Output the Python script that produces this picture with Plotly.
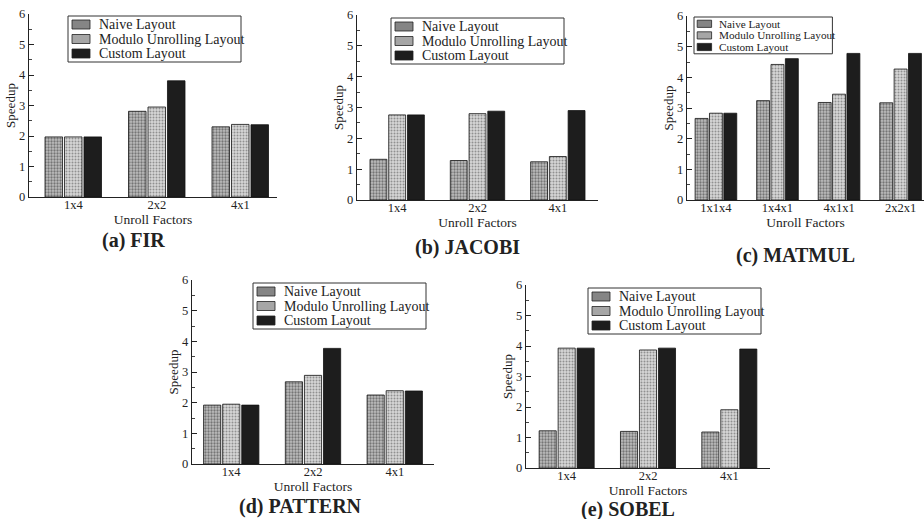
import plotly.graph_objects as go

# ---------------- data ----------------
series_names = ["Naive Layout", "Modulo Unrolling Layout", "Custom Layout"]

fir_factors = ["1x4", "2x2", "4x1"]
fir_naive = [1.97, 2.81, 2.30]
fir_modulo = [1.97, 2.95, 2.38]
fir_custom = [1.97, 3.81, 2.37]

jacobi_factors = ["1x4", "2x2", "4x1"]
jacobi_naive = [1.32, 1.28, 1.24]
jacobi_modulo = [2.76, 2.80, 1.41]
jacobi_custom = [2.76, 2.88, 2.90]

matmul_factors = ["1x1x4", "1x4x1", "4x1x1", "2x2x1"]
matmul_naive = [2.66, 3.24, 3.18, 3.17]
matmul_modulo = [2.83, 4.42, 3.45, 4.27]
matmul_custom = [2.83, 4.61, 4.78, 4.78]

pattern_factors = ["1x4", "2x2", "4x1"]
pattern_naive = [1.92, 2.68, 2.25]
pattern_modulo = [1.95, 2.89, 2.39]
pattern_custom = [1.92, 3.77, 2.38]

sobel_factors = ["1x4", "2x2", "4x1"]
sobel_naive = [1.22, 1.20, 1.18]
sobel_modulo = [3.93, 3.87, 1.91]
sobel_custom = [3.93, 3.93, 3.90]

panel_titles = ["(a) FIR", "(b) JACOBI", "(c) MATMUL", "(d) PATTERN", "(e) SOBEL"]
y_tick_vals = [0, 1, 2, 3, 4, 5, 6]
x_title = "Unroll Factors"
y_title = "Speedup"

# ---------------- styles / layout ----------------
W, H = 924, 519
FONT = "Liberation Serif, Times New Roman, serif"


def px(x):
    return x / W


def py(y):
    return 1 - y / H


bar_styles = [
    dict(color="#bdbdbd", pattern=dict(shape=".", fgcolor="#2e2e2e", size=3, solidity=0.45)),
    dict(color="#d6d6d6", pattern=dict(shape=".", fgcolor="#4a4a4a", size=3, solidity=0.35)),
    dict(color="#1d1d1d"),
]
swatch_fill = ["#858585", "#a6a6a6", "#1d1d1d"]

panels = [
    dict(factors=fir_factors, vals=[fir_naive, fir_modulo, fir_custom],
         box=(29, 277, 14, 197), xr=(-0.53, 2.44), title=(133, 240), legend=(68, 16, 1.0)),
    dict(factors=jacobi_factors, vals=[jacobi_naive, jacobi_modulo, jacobi_custom],
         box=(357, 598, 15, 200), xr=(-0.5, 2.5), title=(467, 247), legend=(391, 18, 1.0)),
    dict(factors=matmul_factors, vals=[matmul_naive, matmul_modulo, matmul_custom],
         box=(687, 924, 16, 200), xr=(-0.47, 3.38), title=(795, 255), legend=(694, 17, 0.8)),
    dict(factors=pattern_factors, vals=[pattern_naive, pattern_modulo, pattern_custom],
         box=(192, 434, 280, 464), xr=(-0.48, 2.48), title=(300, 506), legend=(253, 283, 1.0)),
    dict(factors=sobel_factors, vals=[sobel_naive, sobel_modulo, sobel_custom],
         box=(526, 770, 285, 468), xr=(-0.5, 2.5), title=(628, 509), legend=(588, 288, 1.0)),
]

fig = go.Figure()
shapes = []
annotations = []
layout_axes = {}

for i, p in enumerate(panels):
    n = "" if i == 0 else str(i + 1)
    xa, ya = "x" + n, "y" + n
    for k in range(3):
        fig.add_trace(go.Bar(
            x=p["factors"], y=p["vals"][k], name=series_names[k],
            xaxis=xa, yaxis=ya, showlegend=False,
            marker=dict(line=dict(color="#111111", width=0.8), **bar_styles[k]),
        ))
    x0, x1, yt, yb = p["box"]
    layout_axes["xaxis" + n] = dict(
        domain=[px(x0), px(x1)], anchor=ya, range=list(p["xr"]),
        showline=True, linecolor="#222", linewidth=1.3, ticks="",
        ticklabelstandoff=-4,
        tickfont=dict(family=FONT, size=12.5, color="#222"),
        title=dict(text=x_title, font=dict(family=FONT, size=13.5, color="#222"), standoff=0),
        showgrid=False, zeroline=False, automargin=False, fixedrange=True,
    )
    layout_axes["yaxis" + n] = dict(
        domain=[py(yb), py(yt)], anchor=xa, range=[0, 6],
        tickvals=y_tick_vals, ticks="inside", ticklen=5, tickwidth=1, tickcolor="#222",
        minor=dict(dtick=0.5, ticks="inside", ticklen=3, tickcolor="#444", tickwidth=1, showgrid=False),
        showline=True, linecolor="#222", linewidth=1.3,
        tickfont=dict(family=FONT, size=12.5, color="#222"),
        title=dict(text=y_title, font=dict(family=FONT, size=13, color="#222"), standoff=0),
        showgrid=False, zeroline=False, automargin=False, fixedrange=True,
    )
    # subplot caption
    tx, ty = p["title"]
    annotations.append(dict(
        text="<b>" + panel_titles[i] + "</b>", x=px(tx), y=py(ty), xref="paper", yref="paper",
        xanchor="center", yanchor="middle", showarrow=False,
        font=dict(family=FONT, size=20, color="#222"),
    ))
    # legend box (drawn)
    lx, ly, s = p["legend"]
    shapes.append(dict(type="rect", xref="paper", yref="paper", layer="above",
                       x0=px(lx), x1=px(lx + 173 * s), y0=py(ly + 46 * s), y1=py(ly),
                       line=dict(color="#333", width=1), fillcolor="white"))
    for k in range(3):
        rc = ly + (8.5 + 14.5 * k) * s
        shapes.append(dict(type="rect", xref="paper", yref="paper", layer="above",
                           x0=px(lx + 4 * s), x1=px(lx + 22 * s),
                           y0=py(rc + 4.5 * s), y1=py(rc - 4.5 * s),
                           line=dict(color="#222", width=0.8), fillcolor=swatch_fill[k]))
        annotations.append(dict(
            text=series_names[k], x=px(lx + 29 * s), y=py(rc), xref="paper", yref="paper",
            xanchor="left", yanchor="middle", showarrow=False,
            font=dict(family=FONT, size=14 * s, color="#222"),
        ))

fig.update_layout(
    width=W, height=H, margin=dict(l=0, r=0, t=0, b=0),
    paper_bgcolor="white", plot_bgcolor="rgba(0,0,0,0)",
    barmode="group", bargap=0.3, bargroupgap=0.1,
    showlegend=False, shapes=shapes, annotations=annotations,
    font=dict(family=FONT, color="#222"),
    **layout_axes,
)

fig.write_html(
    "out.html",
    config={"displayModeBar": False, "staticPlot": True},
    post_script="document.body.style.margin='0';document.body.style.overflow='hidden';",
)
